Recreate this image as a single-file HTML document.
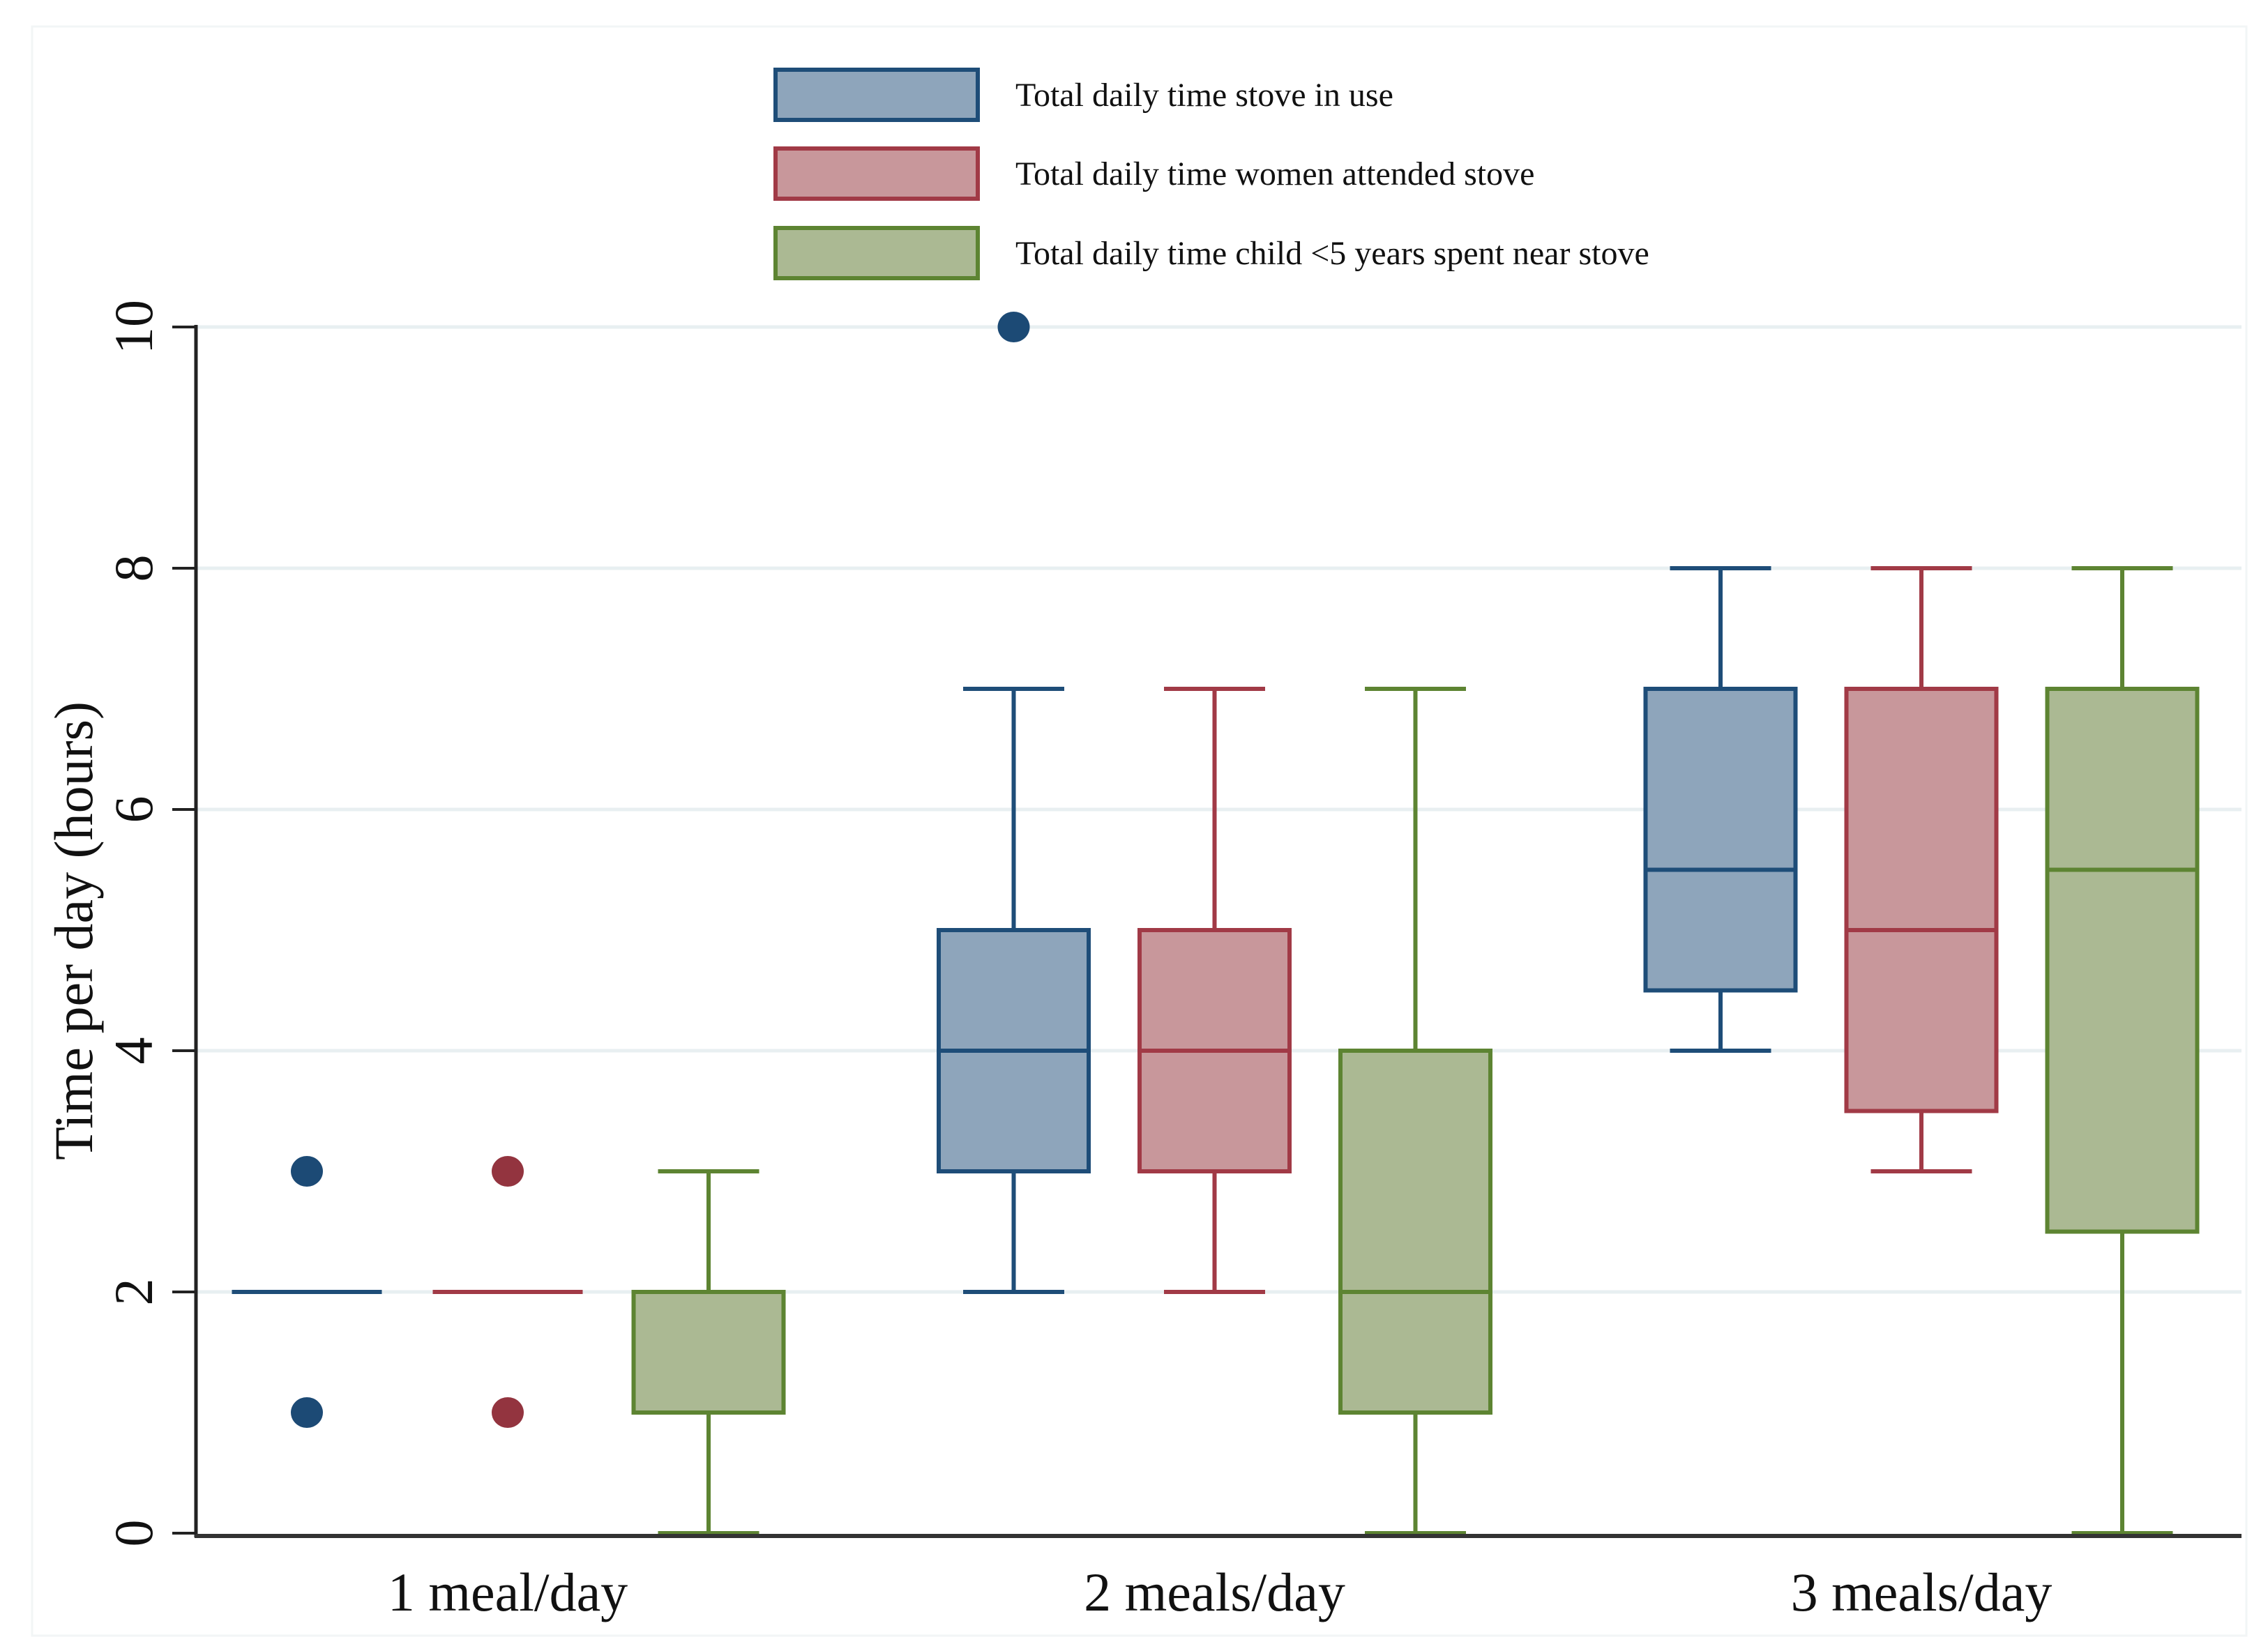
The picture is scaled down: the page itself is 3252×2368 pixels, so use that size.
<!DOCTYPE html>
<html><head><meta charset="utf-8"><style>
html,body{margin:0;padding:0;background:#fff;}
svg{display:block;}
text{font-family:"Liberation Serif",serif;fill:#111;}
</style></head><body>
<svg id="chart" width="3252" height="2368" viewBox="0 0 3252 2368" xmlns="http://www.w3.org/2000/svg">
<rect x="0" y="0" width="3252" height="2368" fill="#fff"/>
<rect x="46" y="38" width="3175" height="2308" fill="none" stroke="#f2f5f6" stroke-width="3"/>
<g id="grid"></g>
<g id="boxes"></g>
<g id="axes"></g>
<g id="legend"></g>
</svg>
<script>
const categories = ["1 meal/day", "2 meals/day", "3 meals/day"];
const seriesNames = ["Total daily time stove in use", "Total daily time women attended stove", "Total daily time child <5 years spent near stove"];
const yTicks = [0, 2, 4, 6, 8, 10];
// per series: [category][lowWhisker, q1, median, q3, highWhisker]
const stoveStats = [[2, 2, 2, 2, 2], [2, 3, 4, 5, 7], [4, 4.5, 5.5, 7, 8]];
const womenStats = [[2, 2, 2, 2, 2], [2, 3, 4, 5, 7], [3, 3.5, 5, 7, 8]];
const childStats = [[0, 1, 2, 2, 3], [0, 1, 2, 4, 7], [0, 2.5, 5.5, 7, 8]];
const stoveOutliers = [[1, 3], [10], []];
const womenOutliers = [[1, 3], [], []];
const childOutliers = [[], [], []];

const NS = "http://www.w3.org/2000/svg";
const plotL = 281, plotR = 3214, yTop = 469, yBot = 2199, yMax = 10;
const y = v => yBot - (v / yMax) * (yBot - yTop);
const xCat = i => 728 + i * 1013.5;
const seriesOffset = [-288, 0, 288];
const strokes = ["#1e4d78", "#a13a46", "#5d8432"];
const fills = ["#8ea5bb", "#c8979b", "#abb993"];
const dotFills = ["#1c4a75", "#93343f", "#5d8432"];
const allStats = [stoveStats, womenStats, childStats];
const allOut = [stoveOutliers, womenOutliers, childOutliers];

function mk(tag, attrs, parent) {
  const e = document.createElementNS(NS, tag);
  for (const k in attrs) e.setAttribute(k, attrs[k]);
  parent.appendChild(e);
  return e;
}
const grid = document.getElementById('grid');
const boxes = document.getElementById('boxes');
const axes = document.getElementById('axes');
const legend = document.getElementById('legend');

yTicks.forEach(t => {
  if (t === 0) return;
  const g = mk('line', {x1: plotL, x2: plotR, y1: y(t), y2: y(t), stroke: '#e8eff1', 'stroke-width': 5}, grid);
  
  
});

allStats.forEach((stats, s) => {
  stats.forEach((d, i) => {
    const cx = xCat(i) + seriesOffset[s];
    const bw = 215, cw = 145;
    const g = mk('g', {}, boxes);
    
    
    const st = strokes[s];
    mk('line', {x1: cx, x2: cx, y1: y(d[3]), y2: y(d[4]), stroke: st, 'stroke-width': 6}, g);
    mk('line', {x1: cx, x2: cx, y1: y(d[1]), y2: y(d[0]), stroke: st, 'stroke-width': 6}, g);
    mk('line', {x1: cx - cw / 2, x2: cx + cw / 2, y1: y(d[4]), y2: y(d[4]), stroke: st, 'stroke-width': 6}, g);
    mk('line', {x1: cx - cw / 2, x2: cx + cw / 2, y1: y(d[0]), y2: y(d[0]), stroke: st, 'stroke-width': 6}, g);
    if (d[3] > d[1]) {
      mk('rect', {x: cx - bw / 2, y: y(d[3]), width: bw, height: y(d[1]) - y(d[3]), fill: fills[s], stroke: st, 'stroke-width': 6}, g);
    }
    mk('line', {x1: cx - bw / 2, x2: cx + bw / 2, y1: y(d[2]), y2: y(d[2]), stroke: st, 'stroke-width': 6}, g);
    allOut[s][i].forEach(v => {
      const c = mk('ellipse', {cx: cx, cy: y(v), rx: 23, ry: 22, fill: dotFills[s]}, g);
      
      
    });
  });
});

// axes
const ya = mk('line', {x1: plotL, x2: plotL, y1: yTop - 3, y2: yBot + 6, stroke: '#222', 'stroke-width': 5}, axes);


const xa = mk('line', {x1: plotL - 2, x2: plotR, y1: yBot + 4, y2: yBot + 4, stroke: '#333', 'stroke-width': 6}, axes);


yTicks.forEach(t => {
  const tk = mk('line', {x1: plotL - 34, x2: plotL, y1: y(t), y2: y(t), stroke: '#222', 'stroke-width': 4}, axes);
  
  
  const tx = mk('text', {x: 0, y: 0, 'font-size': 78, 'text-anchor': 'middle', transform: 'translate(218,' + y(t) + ') rotate(-90)'}, axes);
  tx.textContent = t;
  
  
});
categories.forEach((c, i) => {
  const tx = mk('text', {x: xCat(i), y: 2310, 'font-size': 78, 'text-anchor': 'middle'}, axes);
  tx.textContent = c;
  
  
});
const yt = mk('text', {x: 0, y: 0, 'font-size': 78, 'text-anchor': 'middle', transform: 'translate(132,1335) rotate(-90)'}, axes);
yt.textContent = 'Time per day (hours)';



// legend
const legY = [100, 213, 327];
seriesNames.forEach((n, s) => {
  const g = mk('g', {}, legend);
  
  
  mk('rect', {x: 1112, y: legY[s], width: 290, height: 72, fill: fills[s], stroke: strokes[s], 'stroke-width': 6}, g);
  const tx = mk('text', {x: 1456, y: legY[s] + 52, 'font-size': 48}, g);
  tx.textContent = n;
});
</script>
</body></html>
